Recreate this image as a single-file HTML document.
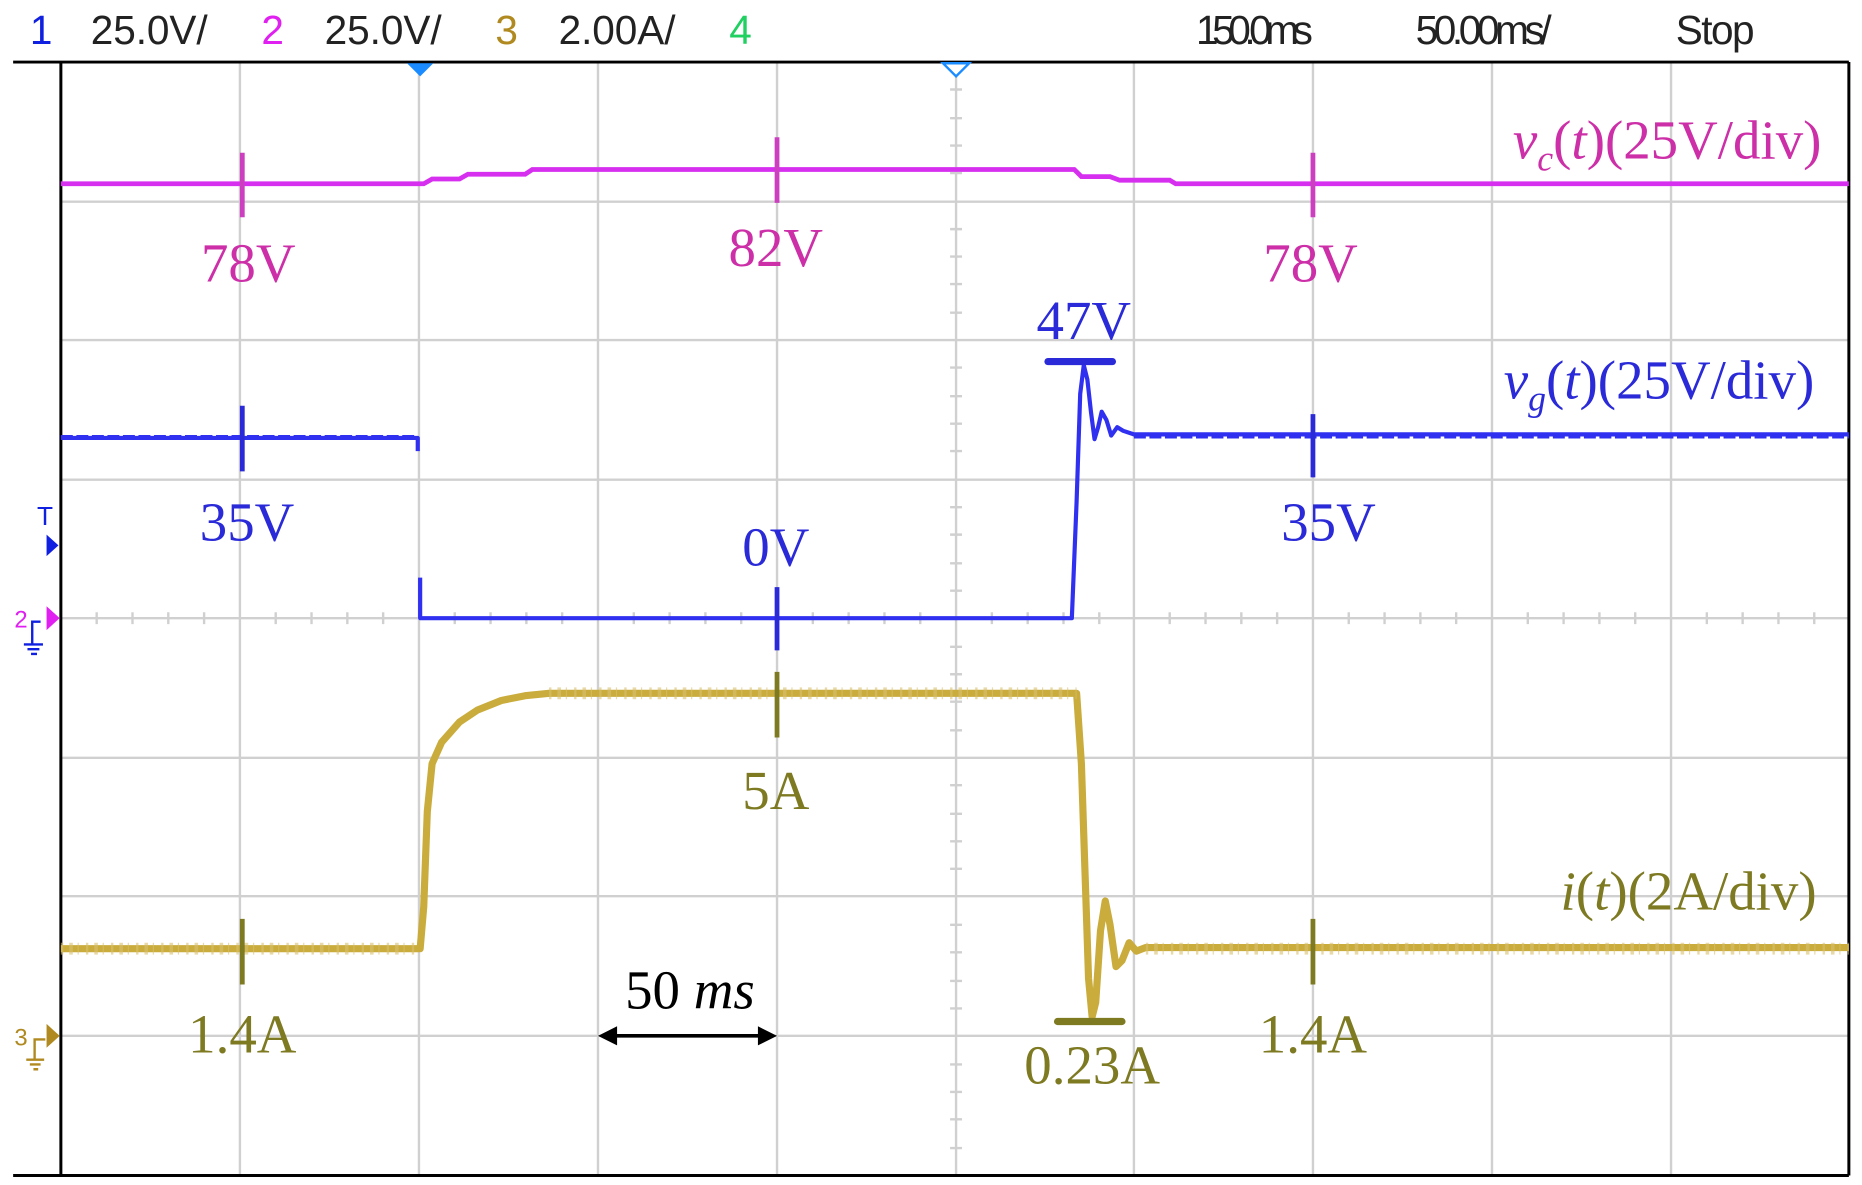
<!DOCTYPE html>
<html><head><meta charset="utf-8"><style>
html,body{margin:0;padding:0;background:#fff;width:1862px;height:1185px;overflow:hidden}
svg{display:block}
.hd{font-family:"Liberation Sans",sans-serif;font-size:34px;fill:#222}
.sf{font-family:"Liberation Serif",serif;font-size:46px}
</style></head><body>
<svg width="1862" height="1185" viewBox="0 0 1560 993" preserveAspectRatio="none" xmlns="http://www.w3.org/2000/svg">
<rect width="1560" height="993" fill="#fff"/>
<!-- header -->
<text class="hd" x="25" y="37" style="fill:#1020e0">1</text>
<text class="hd" x="76" y="37" textLength="98">25.0V/</text>
<text class="hd" x="219" y="37" style="fill:#e020f0">2</text>
<text class="hd" x="272" y="37" textLength="98">25.0V/</text>
<text class="hd" x="415" y="37" style="fill:#b08a20">3</text>
<text class="hd" x="468" y="37" textLength="98">2.00A/</text>
<text class="hd" x="611" y="37" style="fill:#20d060">4</text>
<text class="hd" x="1002" y="37" textLength="98">150.0ms</text>
<text class="hd" x="1186" y="37" textLength="114">50.00ms/</text>
<text class="hd" x="1404" y="37" textLength="66">Stop</text>
<!-- grid -->
<g stroke="#d0d0d0" stroke-width="2">
<line x1="201" y1="52" x2="201" y2="985"/><line x1="351" y1="52" x2="351" y2="985"/>
<line x1="501" y1="52" x2="501" y2="985"/><line x1="651" y1="52" x2="651" y2="985"/>
<line x1="801" y1="52" x2="801" y2="985"/><line x1="950" y1="52" x2="950" y2="985"/>
<line x1="1100" y1="52" x2="1100" y2="985"/><line x1="1250" y1="52" x2="1250" y2="985"/>
<line x1="1400" y1="52" x2="1400" y2="985"/>
<line x1="51" y1="169" x2="1549" y2="169"/><line x1="51" y1="285" x2="1549" y2="285"/>
<line x1="51" y1="402" x2="1549" y2="402"/><line x1="51" y1="518" x2="1549" y2="518"/>
<line x1="51" y1="635" x2="1549" y2="635"/><line x1="51" y1="751" x2="1549" y2="751"/>
<line x1="51" y1="868" x2="1549" y2="868"/>
</g>
<g stroke="#d0d0d0" stroke-width="2">
<path d="M81 513v10M111 513v10M141 513v10M171 513v10M231 513v10M261 513v10M291 513v10M321 513v10M381 513v10M411 513v10M441 513v10M471 513v10M531 513v10M561 513v10M591 513v10M621 513v10M681 513v10M711 513v10M741 513v10M771 513v10M831 513v10M861 513v10M891 513v10M921 513v10M980 513v10M1010 513v10M1040 513v10M1070 513v10M1130 513v10M1160 513v10M1190 513v10M1220 513v10M1280 513v10M1310 513v10M1340 513v10M1370 513v10M1430 513v10M1460 513v10M1490 513v10M1520 513v10"/>
<path d="M796 75h10M796 99h10M796 122h10M796 145h10M796 192h10M796 215h10M796 238h10M796 262h10M796 308h10M796 332h10M796 355h10M796 378h10M796 425h10M796 448h10M796 472h10M796 495h10M796 542h10M796 565h10M796 588h10M796 612h10M796 658h10M796 682h10M796 705h10M796 728h10M796 775h10M796 798h10M796 822h10M796 845h10M796 892h10M796 915h10M796 938h10M796 962h10"/>
</g>
<!-- borders -->
<line x1="11" y1="52" x2="1549" y2="52" stroke="#000" stroke-width="2.5"/>
<line x1="11" y1="985" x2="1549" y2="985" stroke="#000" stroke-width="2.5"/>
<line x1="51" y1="52" x2="51" y2="985" stroke="#000" stroke-width="2.5"/>
<line x1="1549" y1="52" x2="1549" y2="985" stroke="#000" stroke-width="2.5"/>
<!-- trigger markers -->
<path d="M341 53h22l-11 11z" fill="#1a8cff"/>
<path d="M790 53h22l-11 11z" fill="#fff" stroke="#1a8cff" stroke-width="2"/>
<!-- left markers -->
<text x="31" y="440" font-family="Liberation Sans,sans-serif" font-size="22" fill="#1020e0">T</text>
<path d="M39 448l10 9l-10 9z" fill="#1020e0"/>
<path d="M39 508l11 10l-11 10z" fill="#e020f0"/>
<text x="12" y="526" font-family="Liberation Sans,sans-serif" font-size="20" fill="#e020f0">2</text>
<path d="M34 521h-7v19M20 540h16M23 544h10M26 548h5" stroke="#1020e0" stroke-width="2" fill="none"/>
<path d="M39 858l11 10l-11 10z" fill="#b08a20"/>
<text x="12" y="876" font-family="Liberation Sans,sans-serif" font-size="20" fill="#b08a20">3</text>
<path d="M38 871h-9v17M22 888h15M25 892h9M28 896h4" stroke="#b08a20" stroke-width="2" fill="none"/>
<!-- vc trace -->
<path d="M51 154H355L362 150H385L392 146H440L446 142H900L906 148H930L938 151H980L985 154H1549" fill="none" stroke="#d62ff0" stroke-width="4"/>
<g stroke="#cc40c0" stroke-width="4"><line x1="203" y1="128" x2="203" y2="182"/><line x1="651" y1="115" x2="651" y2="170"/><line x1="1100" y1="128" x2="1100" y2="182"/></g>
<g class="sf" fill="#cc2fa8" text-anchor="middle">
<text x="208" y="236">78V</text><text x="650" y="223">82V</text><text x="1098" y="236">78V</text>
</g>
<text class="sf" x="1526" y="133" text-anchor="end" fill="#cc2fa8"><tspan font-style="italic">v</tspan><tspan font-style="italic" font-size="30" dy="10">c</tspan><tspan dy="-10">(</tspan><tspan font-style="italic">t</tspan>)(25V/div)</text>
<!-- vg trace -->
<path d="M51 367H350V378M352 484V518H898L902 420L905 330L908 306L911 318L914 345L917 368L920 358L923 345L927 352L931 365L936 358L941 361L950 364H1549" fill="none" stroke="#3030f0" stroke-width="3.5" stroke-linejoin="round"/>
<path d="M51 366H350M950 366H1549" fill="none" stroke="#3030f0" stroke-width="3" stroke-dasharray="10 3"/>
<g stroke="#2a2ad8" stroke-width="4"><line x1="203" y1="340" x2="203" y2="395"/><line x1="651" y1="492" x2="651" y2="545"/><line x1="1100" y1="347" x2="1100" y2="400"/><line x1="878" y1="303" x2="932" y2="303" stroke-width="6" stroke-linecap="round"/></g>
<g class="sf" fill="#2a2ad8" text-anchor="middle">
<text x="207" y="453">35V</text><text x="650" y="474">0V</text><text x="908" y="284">47V</text><text x="1113" y="453">35V</text>
</g>
<text class="sf" x="1520" y="334" text-anchor="end" fill="#2a2ad8"><tspan font-style="italic">v</tspan><tspan font-style="italic" font-size="30" dy="10">g</tspan><tspan dy="-10">(</tspan><tspan font-style="italic">t</tspan>)(25V/div)</text>
<!-- i trace -->
<path d="M51 795H352L355 760L358 680L362 640L370 622L385 605L400 595L420 587L440 583L460 581H902L906 640L909 730L912 820L915 852L918 840L922 780L926 755L930 775L935 810L940 805L946 790L952 797L960 794H1549" fill="none" stroke="#c9ac3c" stroke-width="6" stroke-linejoin="round"/>
<path d="M51 795H352M460 581H902M960 795H1549" fill="none" stroke="#d8c070" stroke-width="10" stroke-dasharray="2 5 3 4 1 6" opacity="0.6"/>
<g stroke="#7d7a22" stroke-width="4"><line x1="203" y1="770" x2="203" y2="825"/><line x1="651" y1="563" x2="651" y2="618"/><line x1="1100" y1="770" x2="1100" y2="825"/><line x1="886" y1="856" x2="940" y2="856" stroke-width="6" stroke-linecap="round"/></g>
<g class="sf" fill="#7d7a22" text-anchor="middle">
<text x="203" y="882">1.4A</text><text x="650" y="678">5A</text><text x="915" y="908">0.23A</text><text x="1100" y="882">1.4A</text>
</g>
<text class="sf" x="1522" y="762" text-anchor="end" fill="#7d7a22"><tspan font-style="italic">i</tspan>(<tspan font-style="italic">t</tspan>)(2A/div)</text>
<!-- 50ms arrow -->
<line x1="505" y1="868" x2="647" y2="868" stroke="#000" stroke-width="3"/>
<path d="M501 868l16-8v16zM651 868l-16-8v16z" fill="#000"/>
<text class="sf" x="578" y="845" text-anchor="middle" fill="#000">50 <tspan font-style="italic">ms</tspan></text>
</svg>
</body></html>
